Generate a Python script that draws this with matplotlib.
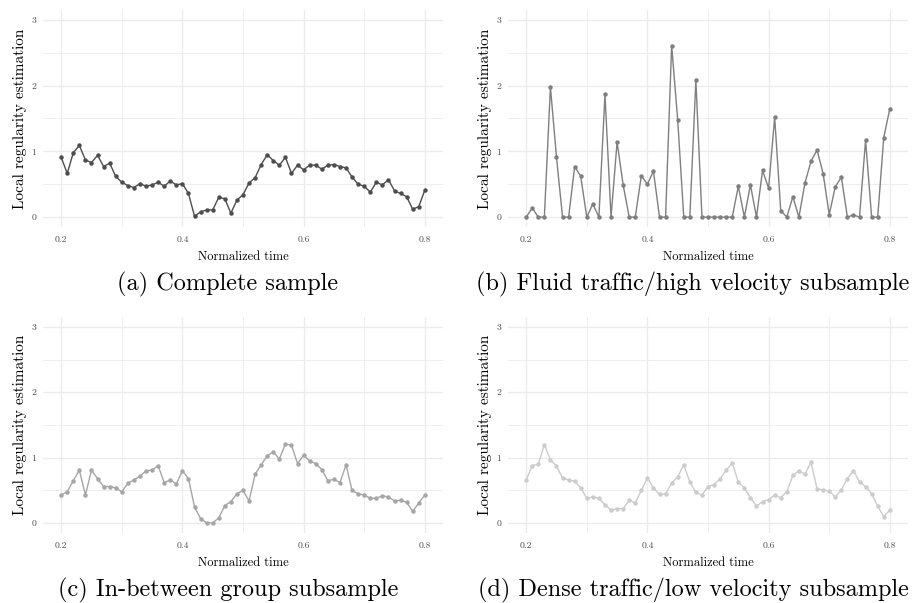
import numpy as np
import matplotlib
matplotlib.use("Agg")
import matplotlib.pyplot as plt
from matplotlib.ticker import MultipleLocator

plt.rcParams['font.family'] = ['cmr10', 'DejaVu Serif']
plt.rcParams['axes.formatter.use_mathtext'] = True

time = np.round(np.arange(0.20, 0.805, 0.01), 2)

complete = [0.91, 0.665, 0.98, 1.09, 0.87, 0.83, 0.94, 0.77, 0.82, 0.62,
            0.53, 0.48, 0.45, 0.51, 0.47, 0.49, 0.53, 0.47, 0.55, 0.49,
            0.51, 0.36, 0.015, 0.08, 0.11, 0.11, 0.30, 0.28, 0.06, 0.26,
            0.34, 0.52, 0.60, 0.80, 0.95, 0.86, 0.79, 0.91, 0.665, 0.79,
            0.72, 0.79, 0.79, 0.73, 0.79, 0.80, 0.77, 0.75, 0.61, 0.50,
            0.47, 0.38, 0.53, 0.49, 0.57, 0.40, 0.36, 0.31, 0.12, 0.16,
            0.41]

fluid = [0, 0.14, 0, 0, 1.98, 0.91, 0, 0, 0.77, 0.62,
         0, 0.20, 0, 1.87, 0, 1.14, 0.49, 0, 0, 0.63,
         0.50, 0.70, 0, 0, 2.61, 1.48, 0, 0, 2.08, 0,
         0, 0, 0, 0, 0, 0.47, 0, 0.49, 0, 0.71,
         0.44, 1.52, 0.10, 0, 0.31, 0, 0.52, 0.85, 1.02, 0.66,
         0.04, 0.46, 0.61, 0, 0.035, 0, 1.17, 0, 0, 1.21,
         1.65]

between = [0.43, 0.48, 0.65, 0.81, 0.43, 0.81, 0.68, 0.56, 0.56, 0.54,
           0.48, 0.61, 0.66, 0.72, 0.80, 0.81, 0.88, 0.62, 0.66, 0.60,
           0.80, 0.68, 0.25, 0.07, 0.005, 0.005, 0.08, 0.27, 0.33, 0.45,
           0.50, 0.34, 0.75, 0.89, 1.03, 1.09, 0.98, 1.21, 1.19, 0.91,
           1.04, 0.95, 0.91, 0.82, 0.65, 0.67, 0.62, 0.89, 0.50, 0.45,
           0.43, 0.38, 0.38, 0.42, 0.40, 0.34, 0.35, 0.32, 0.18, 0.31,
           0.43]

dense = [0.66, 0.88, 0.90, 1.20, 0.97, 0.87, 0.69, 0.66, 0.64, 0.54,
         0.38, 0.40, 0.38, 0.28, 0.20, 0.22, 0.22, 0.35, 0.31, 0.50,
         0.69, 0.54, 0.44, 0.45, 0.61, 0.71, 0.89, 0.63, 0.47, 0.43,
         0.56, 0.59, 0.68, 0.81, 0.92, 0.63, 0.54, 0.39, 0.26, 0.33,
         0.36, 0.43, 0.39, 0.48, 0.73, 0.80, 0.75, 0.93, 0.52, 0.51,
         0.49, 0.40, 0.51, 0.68, 0.80, 0.63, 0.56, 0.45, 0.26, 0.10,
         0.20]

captions = ["(a) Complete sample",
            "(b) Fluid traffic/high velocity subsample",
            "(c) In-between group subsample",
            "(d) Dense traffic/low velocity subsample"]
series = [complete, fluid, between, dense]
colors = ["#4d4d4d", "#7f7f7f", "#a6a6a6", "#cccccc"]

fig = plt.figure(figsize=(9.13, 6.03), dpi=100)

# axes boxes in pixels: left, top, right, bottom, caption centre x
boxes = [(43, 10, 443, 227, 228), (508, 10, 908, 227, 693),
         (43, 317, 443, 533, 228), (508, 317, 908, 533, 693)]
W, H = 913.0, 603.0

for box, y, col, cap in zip(boxes, series, colors, captions):
    l, t, r, b, cx = box
    ax = fig.add_axes([l / W, 1 - b / H, (r - l) / W, (b - t) / H])
    ax.plot(time, y, color=col, lw=1.0, marker='o', ms=2.2, mec=col, mfc=col)
    ax.set_xlim(0.17, 0.83)
    ax.set_ylim(-0.15, 3.15)
    ax.xaxis.set_minor_locator(MultipleLocator(0.1))
    ax.yaxis.set_minor_locator(MultipleLocator(0.5))
    ax.set_xticks([0.2, 0.4, 0.6, 0.8])
    ax.set_xticklabels(["0.2", "0.4", "0.6", "0.8"])
    ax.set_yticks([0, 1, 2, 3])
    ax.set_yticklabels(["0", "1", "2", "3"])
    ax.grid(True, which='major', color='#ebebeb', lw=1.0)
    ax.grid(True, which='minor', color='#ebebeb', lw=0.6)
    ax.set_axisbelow(True)
    for s in ax.spines.values():
        s.set_visible(False)
    ax.tick_params(which='both', length=0, labelsize=7, labelcolor='#4d4d4d')
    ax.tick_params(axis='x', pad=6)
    ax.tick_params(axis='y', pad=5)
    ax.set_xlabel("Normalized time", fontsize=9, labelpad=5)
    ax.set_ylabel("Local regularity estimation", fontsize=11, labelpad=3)
    fig.text(cx / W, 1 - (b + 57) / H, cap, ha='center',
             va='center', fontsize=17.5)

fig.savefig("out.png", dpi=100)
